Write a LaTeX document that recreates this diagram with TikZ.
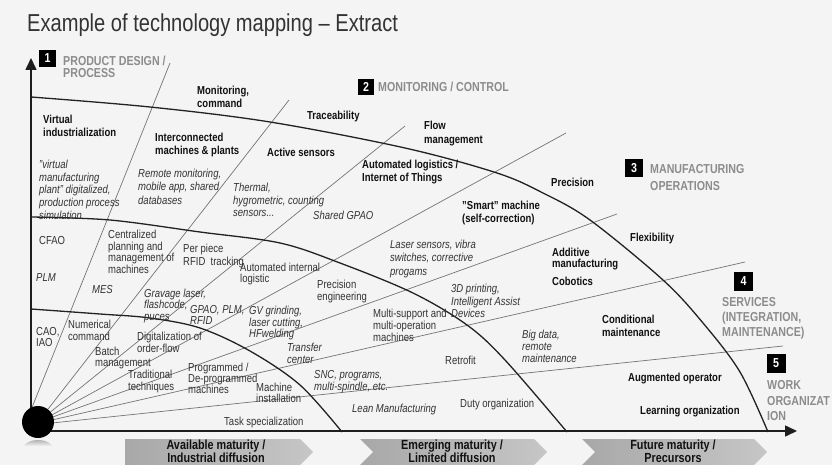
\documentclass[tikz,border=0pt]{standalone}
\usepackage{fontspec}
\setmainfont{Liberation Sans}[FakeStretch=0.82]
\usetikzlibrary{arrows.meta}
\definecolor{bgc}{HTML}{F4F4F4}
\definecolor{txt}{HTML}{333333}
\definecolor{txtb}{HTML}{111111}
\definecolor{catc}{HTML}{8C8C8C}
\definecolor{rayc}{HTML}{747474}
\definecolor{arcc}{HTML}{222222}
\definecolor{axc}{HTML}{1E1E1E}
\definecolor{chevL}{HTML}{A8A8A8}
\definecolor{chevR}{HTML}{C6C6C6}
\newcommand\fsL{\fontsize{11.6}{12.8}\selectfont}
\newcommand\fsC{\fontsize{13}{15.5}\selectfont}
\newcommand\fsT{\fontsize{24.5}{28}\selectfont}
\newcommand\fsV{\fontsize{13.2}{11.8}\selectfont}
\newcommand\fsN{\fontsize{13}{13}\selectfont}
\begin{document}
\begin{tikzpicture}[x=1pt,y=-1pt,
  lab/.style={anchor=north west,inner sep=0pt,align=left,text=txt,font=\fsL,yshift=4.3pt},
  blab/.style={lab,text=txtb,font=\fsL\bfseries},
  ilab/.style={lab,font=\fsL\itshape},
  catlab/.style={anchor=north west,inner sep=0pt,align=left,text=catc,font=\fsC\bfseries,yshift=4.7pt},
  numbox/.style={fill=black,text=white,font=\fsN\bfseries,minimum size=17pt,inner sep=0pt},
  rayl/.style={draw=rayc,line width=0.7pt},
  arcl/.style={draw=arcc,line width=1.3pt},
  axisl/.style={draw=axc,line width=1.5pt,-{Triangle[length=12pt,width=11pt]}},
  chev/.style={left color=chevL,right color=chevR,draw=none},
  chevtext/.style={align=center,font=\fsV\bfseries,text=txtb,inner sep=0pt}]

\fill[bgc] (0,0) rectangle (832,465);
\useasboundingbox (0,0) rectangle (832,465);

% title
\node[anchor=base west,inner sep=0pt,text=txt,font=\fsT] (title) at (27,32) {Example of technology mapping – Extract};

% rays
\coordinate (s1) at (29,415);  \coordinate (e1) at (170,63);
\coordinate (s2) at (45,413);  \coordinate (e2) at (289,100);
\coordinate (s3) at (48,414);  \coordinate (e3) at (405,126);
\coordinate (s4) at (50,416);  \coordinate (e4) at (566,133);
\coordinate (s5) at (50,418);  \coordinate (e5) at (617,214);
\coordinate (s6) at (52,420);  \coordinate (e6) at (745,262);
\coordinate (s7) at (52,423);  \coordinate (e7) at (783,346);
\foreach \i in {1,...,7} { \draw[rayl] (s\i) -- (e\i); }

% arcs
\draw[arcl] plot[smooth,tension=0.55] coordinates {(31,309) (100,314) (150,318) (200,328) (250,351) (300,385) (342,432)};
\draw[arcl] plot[smooth,tension=0.55] coordinates {(31,217) (110,220) (200,232) (280,243) (340,263) (413,293) (467,325) (505,360) (567,432)};
\draw[arcl] plot[smooth,tension=0.55] coordinates {(31,97) (150,107) (270,122) (405,148) (497,173) (543,193) (590,220) (663,280) (703,323) (740,372) (768,432)};

% axes
\coordinate (vbot) at (31,422);
\coordinate (vtop) at (31,58);
\coordinate (hl) at (38,431);
\coordinate (hr) at (797,431);
\draw[axisl] (vbot) -- (vtop);
\draw[axisl] (hl) -- (hr);

% origin ball and reflection
\shade[top color=gray!75,bottom color=bgc] (24,446) .. controls (28,438) and (48,438) .. (52,446) -- cycle;
\fill[black] (38,422) circle (16);

% category headers
\node[numbox] (n1) at (47.5,58.5) {1};
\node[catlab,font=\fontsize{13}{11.5}\selectfont\bfseries] (c1) at (63,61) {PRODUCT DESIGN /\\PROCESS};
\node[numbox,minimum size=16pt] (n2) at (366,87) {2};
\node[catlab] (c2) at (378,87) {MONITORING / CONTROL};
\node[numbox,minimum size=18pt] (n3) at (634,168) {3};
\node[catlab,font=\fontsize{13}{16.5}\selectfont\bfseries] (c3) at (650,169) {MANUFACTURING\\OPERATIONS};
\node[numbox,minimum size=19pt] (n4) at (743.5,281.5) {4};
\node[catlab,font=\fontsize{13}{15}\selectfont\bfseries] (c4) at (722,302) {SERVICES\\(INTEGRATION,\\MAINTENANCE)};
\node[numbox,minimum size=19pt] (n5) at (776,363) {5};
\node[catlab,font=\fontsize{13}{15.5}\selectfont\bfseries] (c5) at (767,385) {WORK\\ORGANIZAT\\ION};

% bold labels
\node[blab] (b1) at (43,119) {Virtual\\industrialization};
\node[blab] (b2) at (197,90) {Monitoring,\\command};
\node[blab] (b3) at (307,115) {Traceability};
\node[blab] (b4) at (155,137) {Interconnected\\machines \& plants};
\node[blab] (b5) at (267,152) {Active sensors};
\node[blab,font=\fontsize{11.6}{14}\selectfont\bfseries] (b6) at (424,125) {Flow\\management};
\node[blab] (b7) at (362,164) {Automated logistics /\\Internet of Things};
\node[blab] (b8) at (551,182) {Precision};
\node[blab] (b9) at (462,205) {"Smart" machine\\(self-correction)};
\node[blab] (b10) at (630,237) {Flexibility};
\node[blab,font=\fontsize{11.6}{11.5}\selectfont\bfseries] (b11) at (552,252) {Additive\\manufacturing};
\node[blab] (b12) at (552,281) {Cobotics};
\node[blab] (b13) at (602,319) {Conditional\\maintenance};
\node[blab] (b14) at (628,377) {Augmented operator};
\node[blab] (b15) at (640,410) {Learning organization};

% regular / italic labels
\node[ilab] (t1) at (39,164) {"virtual\\manufacturing\\plant" digitalized,\\production process\\simulation};
\node[ilab,font=\fontsize{11.6}{13.5}\selectfont\itshape] (t2) at (138,173) {Remote monitoring,\\mobile app, shared\\databases};
\node[ilab] (t3) at (233,187) {Thermal,\\hygrometric, counting\\sensors...};
\node[ilab] (t4) at (313,215) {Shared GPAO};
\node[lab] (t5) at (39,241) {CFAO};
\node[lab,font=\fontsize{11.6}{11.7}\selectfont] (t6) at (108,234) {Centralized\\planning and\\management of\\machines};
\node[lab] (t7) at (183,248) {Per piece\\RFID~~tracking};
\node[lab,font=\fontsize{11.6}{11.5}\selectfont] (t8) at (240,267) {Automated internal\\logistic};
\node[ilab,font=\fontsize{11.6}{13.5}\selectfont\itshape] (t9) at (390,244) {Laser sensors, vibra\\switches, corrective\\progams};
\node[ilab] (t10) at (36,278) {PLM};
\node[ilab] (t11) at (92,289) {MES};
\node[ilab,font=\fontsize{11.6}{11.5}\selectfont\itshape] (t12) at (144,293) {Gravage laser,\\flashcode,\\puces};
\node[ilab,font=\fontsize{11.6}{11.5}\selectfont\itshape] (t13) at (190,309) {GPAO, PLM,\\RFID};
\node[ilab,font=\fontsize{11.6}{10.8}\selectfont\itshape] (t14) at (249,310) {GV grinding,\\laser cutting,\\HFwelding};
\node[lab,font=\fontsize{11.6}{12}\selectfont] (t15) at (317,284) {Precision\\engineering};
\node[ilab] (t16) at (451,288) {3D printing,\\Intelligent Assist\\Devices};
\node[lab,font=\fontsize{11.6}{12}\selectfont] (t17) at (373,313) {Multi-support and\\multi-operation\\machines};
\node[ilab,font=\fontsize{11.6}{12}\selectfont\itshape] (t18) at (522,334) {Big data,\\remote\\maintenance};
\node[lab,font=\fontsize{11.6}{11.5}\selectfont] (t19) at (36,331) {CAO,\\IAO};
\node[lab,font=\fontsize{11.6}{12}\selectfont] (t20) at (68,324) {Numerical\\command};
\node[lab,font=\fontsize{11.6}{11.5}\selectfont] (t21) at (95,351) {Batch\\management};
\node[lab,font=\fontsize{11.6}{12}\selectfont] (t22) at (137,336) {Digitalization of\\order-flow};
\node[lab,font=\fontsize{11.6}{12}\selectfont] (t23) at (128,374) {Traditional\\techniques};
\node[lab,font=\fontsize{11.6}{11.3}\selectfont] (t24) at (188,367) {Programmed /\\De-programmed\\machines};
\node[ilab,font=\fontsize{11.6}{12}\selectfont\itshape] (t25) at (287,347) {Transfer\\center};
\node[lab] (t26) at (445,360) {Retrofit};
\node[ilab,font=\fontsize{11.6}{12}\selectfont\itshape] (t27) at (314,374) {SNC, programs,\\multi-spindle, etc.};
\node[lab,font=\fontsize{11.6}{11.5}\selectfont] (t28) at (256,387) {Machine\\installation};
\node[ilab] (t29) at (352,408) {Lean Manufacturing};
\node[lab] (t30) at (460,403) {Duty organization};
\node[lab] (t31) at (224,421) {Task specialization};

% bottom chevrons
\shade[chev] (125,439) -- (300,439) -- (313,452) -- (300,465) -- (125,465) -- cycle;
\shade[chev] (360,439) -- (534,439) -- (547,452) -- (534,465) -- (360,465) -- (373,452) -- cycle;
\shade[chev] (582,439) -- (754,439) -- (767,452) -- (754,465) -- (582,465) -- (595,452) -- cycle;
\node[chevtext] (v1) at (216,451) {Available maturity /\\Industrial diffusion};
\node[chevtext] (v2) at (452,451) {Emerging maturity /\\Limited diffusion};
\node[chevtext] (v3) at (673,451) {Future maturity /\\Precursors};
\end{tikzpicture}
\end{document}
